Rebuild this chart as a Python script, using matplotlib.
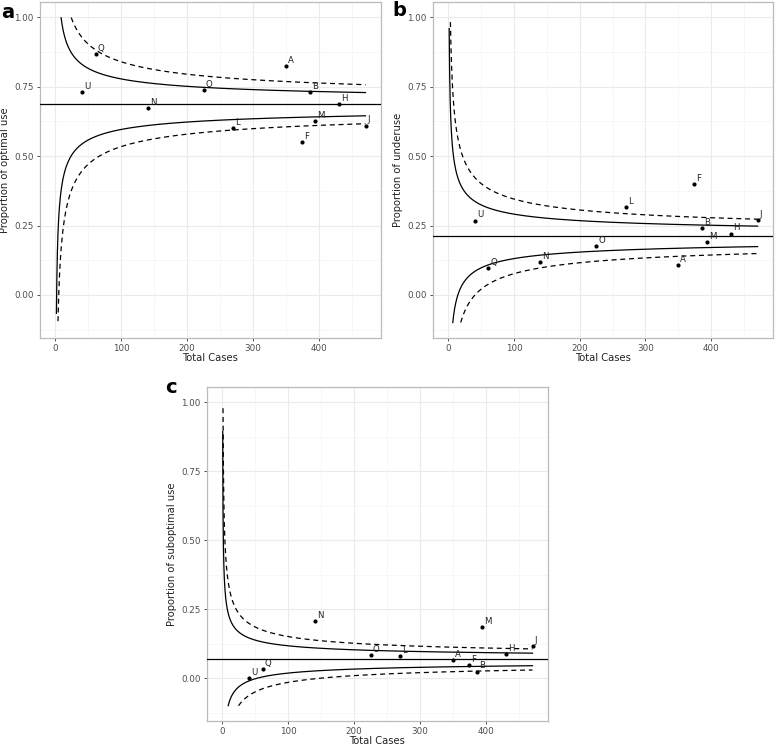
import matplotlib.pyplot as plt
import numpy as np

# sites and total cases (shared by all panels)
sites = ['A', 'B', 'F', 'H', 'J', 'L', 'M', 'N', 'O', 'Q', 'U']
cases = [350, 386, 374, 431, 471, 270, 394, 140, 225, 61, 40]

# proportions
optimal = [0.824, 0.732, 0.550, 0.687, 0.610, 0.601, 0.625, 0.673, 0.738, 0.869, 0.732]
underuse = [0.107, 0.242, 0.400, 0.221, 0.271, 0.318, 0.190, 0.120, 0.176, 0.098, 0.268]
suboptimal = [0.067, 0.024, 0.049, 0.089, 0.117, 0.080, 0.185, 0.208, 0.084, 0.032, 0.000]

# centre lines
centre_optimal = 0.687
centre_underuse = 0.211
centre_suboptimal = 0.068

# funnel limits: 95% (solid) and 99.9% (dashed)
z_inner = 1.96
z_outer = 3.29

n_grid = np.linspace(0.2, 471, 3000)

plt.rcParams['font.family'] = 'DejaVu Sans'

fig = plt.figure(figsize=(7.78, 7.48), dpi=100)
W, H = 778.0, 748.0


def make_axes(left, top, right, bottom):
    return fig.add_axes([left / W, 1 - bottom / H, (right - left) / W, (bottom - top) / H])


def funnel(ax, vals, p, ylabel):
    ax.set_facecolor('white')
    sd = np.sqrt(p * (1 - p) / n_grid)
    for z, ls in [(z_inner, '-'), (z_outer, (0, (4, 3)))]:
        for sign in (1, -1):
            y = p + sign * z * sd
            y = np.where((y > 1.0) | (y < -0.1), np.nan, y)
            ax.plot(n_grid, y, color='black', lw=0.9, linestyle=ls, zorder=3)
    ax.axhline(p, color='black', lw=0.9, zorder=3)
    ax.scatter(cases, vals, s=9, color='black', zorder=4, linewidths=0)
    for s, x, v in zip(sites, cases, vals):
        ax.annotate(s, (x, v), xytext=(1.5, 0.8), textcoords='offset points',
                    ha='left', va='bottom', fontsize=6.2, color='#222222', zorder=5)

    ax.set_xlim(-23.5, 494.5)
    ax.set_ylim(-0.155, 1.055)
    ax.set_xticks([0, 100, 200, 300, 400])
    ax.set_xticks([50, 150, 250, 350, 450], minor=True)
    ax.set_yticks([0, 0.25, 0.5, 0.75, 1.0])
    ax.set_yticklabels(['0.00', '0.25', '0.50', '0.75', '1.00'])
    ax.set_yticks([-0.125, 0.125, 0.375, 0.625, 0.875], minor=True)
    ax.grid(which='major', color='#EBEBEB', lw=0.8, zorder=0)
    ax.grid(which='minor', color='#F4F4F4', lw=0.5, zorder=0)
    ax.set_axisbelow(True)
    for sp in ax.spines.values():
        sp.set_color('#BBBBBB')
        sp.set_linewidth(0.9)
    ax.tick_params(which='major', length=2.5, width=0.6, color='#333333',
                   labelsize=6.3, labelcolor='#4D4D4D', pad=2)
    ax.tick_params(which='minor', length=0)
    ax.set_xlabel('Total Cases', fontsize=7.2, labelpad=0, color='#222222')
    ax.set_ylabel(ylabel, fontsize=7.2, labelpad=3, color='#222222')


ax_a = make_axes(40, 2, 381, 338)
funnel(ax_a, optimal, centre_optimal, 'Proportion of optimal use')
ax_b = make_axes(433, 2, 773, 338)
funnel(ax_b, underuse, centre_underuse, 'Proportion of underuse')
ax_c = make_axes(207, 387, 548, 721)
funnel(ax_c, suboptimal, centre_suboptimal, 'Proportion of suboptimal use')

fig.text(1 / W, 1 - 3 / H, 'a', fontsize=14, fontweight='bold', va='top', ha='left')
fig.text(392 / W, 1 - 1 / H, 'b', fontsize=14, fontweight='bold', va='top', ha='left')
fig.text(165 / W, 1 - 378 / H, 'c', fontsize=14, fontweight='bold', va='top', ha='left')

fig.savefig('out.png', dpi=100, facecolor='white')
